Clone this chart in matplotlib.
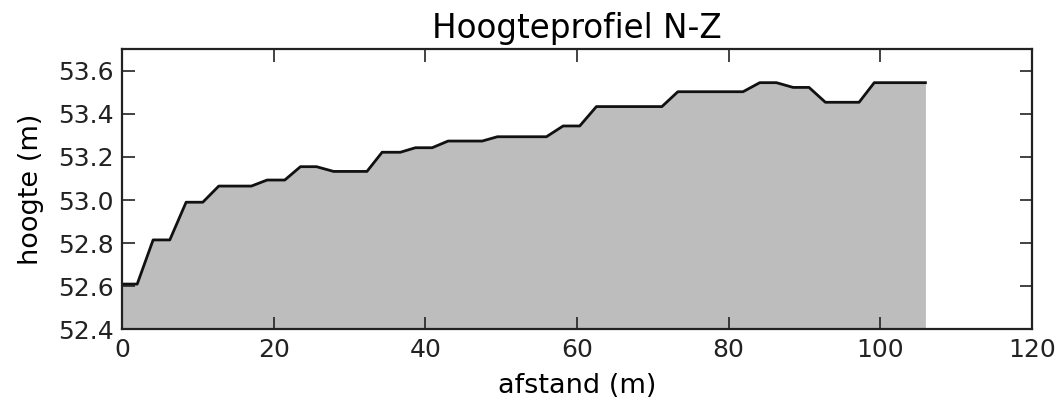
import matplotlib
matplotlib.use("Agg")
import matplotlib.pyplot as plt

# profiel: afstand (m) en hoogte (m)
afstand = [0.0, 2.0, 4.1, 6.3, 8.45, 10.65, 12.76, 17.06, 19.13, 21.46,
           23.53, 25.64, 27.9, 32.3, 34.3, 36.7, 38.7, 40.9, 43.0, 47.5,
           49.5, 55.97, 58.17, 60.36, 62.56, 71.2, 73.3, 81.9, 84.1, 86.3,
           88.5, 90.6, 92.76, 97.2, 99.2, 105.95]
hoogte = [52.61, 52.61, 52.815, 52.815, 52.99, 52.99, 53.065, 53.065, 53.093, 53.093,
          53.155, 53.155, 53.133, 53.133, 53.222, 53.222, 53.243, 53.243, 53.274, 53.274,
          53.294, 53.294, 53.344, 53.344, 53.434, 53.434, 53.503, 53.503, 53.545, 53.545,
          53.523, 53.523, 53.454, 53.454, 53.545, 53.545]

fig = plt.figure(figsize=(10.63, 4.07), dpi=100)
ax = fig.add_axes([0.1148, 0.1909, 0.856, 0.688])

ax.fill_between(afstand, hoogte, 52.0, color="#bdbdbd", linewidth=0)
ax.plot(afstand, hoogte, color="#111111", linewidth=2.0)

ax.set_xlim(0, 120)
ax.set_ylim(52.4, 53.7)
ax.set_yticks([52.4, 52.6, 52.8, 53.0, 53.2, 53.4, 53.6])
ax.set_xticks([0, 20, 40, 60, 80, 100, 120])

ax.tick_params(direction="in", length=9, width=1.2, top=True, right=True,
               labelsize=18, pad=6, colors="#222222")
for s in ax.spines.values():
    s.set_linewidth(1.6)
    s.set_color("#222222")

ax.set_title("Hoogteprofiel N-Z", fontsize=23.5, pad=8)
ax.set_xlabel("afstand (m)", fontsize=19.5, labelpad=8)
ax.set_ylabel("hoogte (m)", fontsize=19.5, labelpad=10)

fig.savefig("out.png", dpi=100)
